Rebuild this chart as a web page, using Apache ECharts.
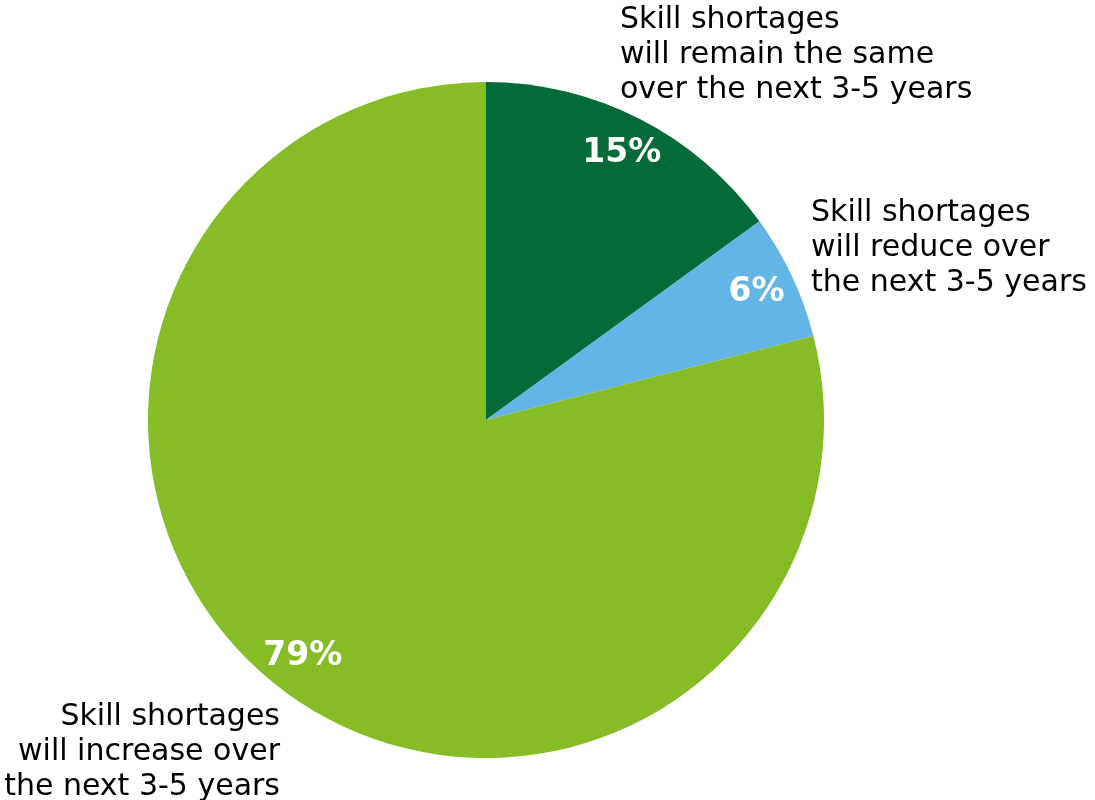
<!DOCTYPE html>
<html>
<head>
<meta charset="utf-8">
<title>Skill shortages outlook</title>
<script src="https://cdn.jsdelivr.net/npm/echarts@6/dist/echarts.min.js"></script>
<style>
  html, body { margin: 0; padding: 0; background: #ffffff; }
  #chart { width: 1095px; height: 800px; }
</style>
</head>
<body>
<div id="chart"></div>
<script>
// Survey answers, clockwise from 12 o'clock
const categories = [
  'Skill shortages\nwill remain the same\nover the next 3-5 years',
  'Skill shortages\nwill reduce over\nthe next 3-5 years',
  'Skill shortages\nwill increase over\nthe next 3-5 years'
];
const shares = [15, 6, 79];
const sliceColors = ['#046A38', '#62B5E5', '#86BC25'];

// Where each category text block sits (anchor point, alignment)
const textAnchors = [
  { x: 620, y: 55, align: 'left' },
  { x: 811, y: 248, align: 'left' },
  { x: 280, y: 752, align: 'right' }
];

const CENTER = [486, 420];
const RADIUS = 338;
const FONT = '"DejaVu Sans", Verdana, sans-serif';

const chart = echarts.init(document.getElementById('chart'), null, { renderer: 'canvas' });

const slices = categories.map((name, i) => ({
  name: name,
  value: shares[i],
  itemStyle: { color: sliceColors[i] }
}));

chart.setOption({
  animation: false,
  backgroundColor: '#ffffff',
  series: [
    {
      // filled slices plus the category texts
      type: 'pie',
      center: CENTER,
      radius: [0, RADIUS],
      startAngle: 90,
      clockwise: true,
      silent: true,
      data: slices,
      itemStyle: { borderWidth: 0 },
      label: {
        show: true,
        position: 'outside',
        formatter: '{b}',
        color: '#000000',
        fontFamily: FONT,
        fontSize: 30,
        lineHeight: 35,
        overflow: 'none'
      },
      labelLine: { show: false },
      labelLayout: function (params) {
        const a = textAnchors[params.dataIndex];
        return { x: a.x, y: a.y, align: a.align, verticalAlign: 'middle' };
      }
    },
    {
      // ring used only to place the percentage labels near the rim
      type: 'pie',
      center: CENTER,
      radius: [254, RADIUS],
      startAngle: 90,
      clockwise: true,
      silent: true,
      data: categories.map((name, i) => ({ name: name, value: shares[i] })),
      itemStyle: { color: 'rgba(0,0,0,0)', borderWidth: 0 },
      label: {
        show: true,
        position: 'inside',
        formatter: function (p) { return p.value + '%'; },
        color: '#ffffff',
        fontFamily: FONT,
        fontWeight: 'bold',
        fontSize: 33
      },
      labelLine: { show: false }
    }
  ]
});
</script>
</body>
</html>
